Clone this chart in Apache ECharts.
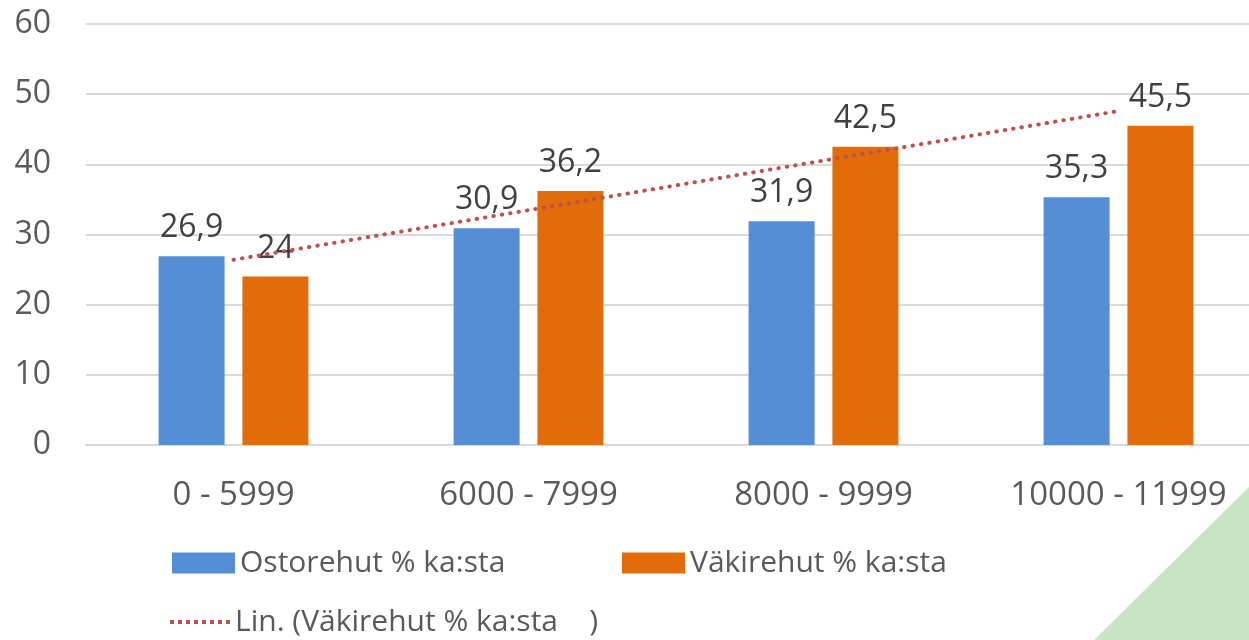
<!DOCTYPE html>
<html>
<head>
<meta charset="utf-8">
<script src="https://cdn.jsdelivr.net/npm/echarts@6/dist/echarts.min.js"></script>
<style>
html,body{margin:0;padding:0;background:#fff;overflow:hidden;}
#c{width:1266px;height:640px;}
</style>
</head>
<body>
<div id="c"></div>
<script>
const categories = ['0 - 5999', '6000 - 7999', '8000 - 9999', '10000 - 11999'];
const ostorehut = [26.9, 30.9, 31.9, 35.3];
const vakirehut = [24, 36.2, 42.5, 45.5];
// Linear trend line endpoints (first and last category)
const trendValues = [26.4, null, null, 47.6];
const yTicks = [0, 10, 20, 30, 40, 50, 60];

const nameA = 'Ostorehut % ka:sta';
const nameB = 'Väkirehut % ka:sta';
const nameT = 'Lin. (Väkirehut % ka:sta    )';

const FONT = '"Open Sans", "Noto Sans", sans-serif';
const chart = echarts.init(document.getElementById('c'), null, {renderer: 'canvas'});

const fmt = p => String(p.value).replace('.', ',');

// dotted legend icon (8 small dots)
let dots = '';
for (let i = 0; i < 8; i++) { dots += 'M' + (i * 8) + ',0h4v4h-4z'; }
const dotIcon = 'path://' + dots;

const legendCommon = {
  itemWidth: 63, itemHeight: 21, itemGap: 40, padding: 0,
  textStyle: {fontFamily: FONT, fontSize: 30, color: '#595959'},
  selectedMode: false
};

chart.setOption({
  animation: false,
  backgroundColor: '#fff',
  grid: {left: 86, right: 0, top: 24, bottom: 195, containLabel: false},
  xAxis: {
    type: 'category',
    data: categories,
    axisLine: {show: true, lineStyle: {color: '#d9d9d9', width: 2}},
    axisTick: {show: false},
    axisLabel: {fontFamily: FONT, fontSize: 33, color: '#595959', margin: 34}
  },
  yAxis: {
    type: 'value',
    min: yTicks[0], max: yTicks[yTicks.length - 1], interval: 10,
    axisLine: {show: false},
    axisTick: {show: false},
    splitLine: {lineStyle: {color: '#d9d9d9', width: 2}},
    axisLabel: {fontFamily: FONT, fontSize: 32, color: '#595959', margin: 35}
  },
  legend: [
    Object.assign({left: 172, top: 548, data: [{name: nameA, icon: 'rect'}]}, legendCommon),
    Object.assign({left: 622, top: 548, data: [{name: nameB, icon: 'rect'}]}, legendCommon),
    Object.assign({left: 170, top: 607, data: [{name: nameT, icon: dotIcon}]}, legendCommon,
                  {itemWidth: 60, itemHeight: 4, itemStyle: {color: '#C0504D'}})
  ],
  series: [
    {
      name: nameA, type: 'bar', data: ostorehut,
      barWidth: 66, barGap: '27%',
      itemStyle: {color: '#558ED5'},
      label: {show: true, position: 'top', distance: 12, formatter: fmt,
              fontFamily: FONT, fontSize: 32, color: '#404040'}
    },
    {
      name: nameB, type: 'bar', data: vakirehut,
      barWidth: 66, barGap: '27%',
      itemStyle: {color: '#E36C0A'},
      label: {show: true, position: 'top', distance: 12, formatter: fmt,
              fontFamily: FONT, fontSize: 32, color: '#404040'}
    },
    {
      name: nameT, type: 'line', data: trendValues, connectNulls: true,
      symbol: 'none', z: 5,
      lineStyle: {color: '#C0504D', width: 4, type: [0.5, 8], cap: 'round'},
      itemStyle: {color: '#C0504D'}
    }
  ],
  graphic: [
    {
      type: 'polygon', z: -1, silent: true,
      shape: {points: [[1249, 487], [1249, 640], [1094, 640]]},
      style: {fill: '#C9E4C5'}
    }
  ]
});
</script>
</body>
</html>
